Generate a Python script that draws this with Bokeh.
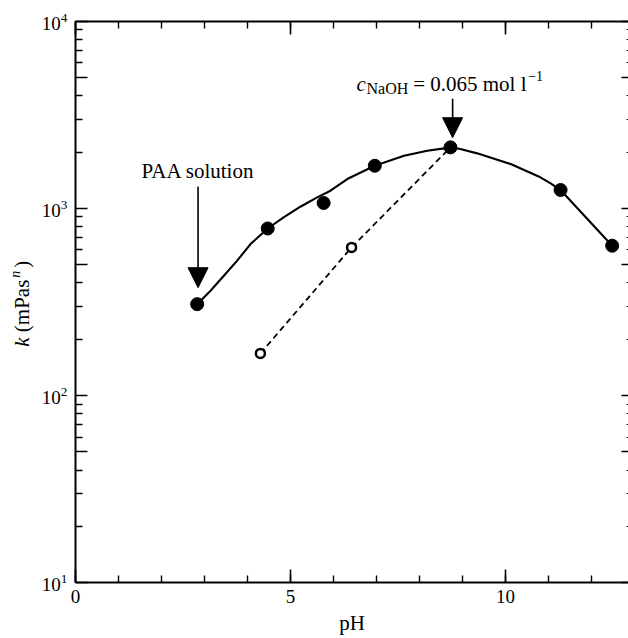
import numpy as np
from bokeh.plotting import figure
from bokeh.models import (Range1d, LinearAxis, LogAxis, FixedTicker, Label,
                          Arrow, NormalHead, CustomJSTickFormatter)
from bokeh.embed import file_html
from bokeh.resources import INLINE

# ---- data ----
ph_filled = [2.83, 4.47, 5.77, 6.96, 8.72, 11.28, 12.48]
k_filled = [308, 781, 1069, 1690, 2119, 1254, 632]

ph_open = [4.30, 6.42]
k_open = [168, 619]

ph_fit = [2.83, 3.14, 3.45, 3.76, 4.07, 4.47, 4.84, 5.23, 5.62, 5.93, 6.32,
          6.96, 7.64, 8.18, 8.57, 8.72, 8.95, 9.34, 10.12, 10.81, 11.05,
          11.28, 12.48]
k_fit = [308, 363, 437, 526, 645, 781, 896, 1021, 1145, 1243, 1435,
         1690, 1912, 2032, 2092, 2119, 2075, 1968, 1726, 1466, 1360,
         1254, 632]

ph_dash = [4.30, 6.42, 8.72]
k_dash = [168, 619, 2119]

x_major = [0, 5, 10]
x_minor = list(range(0, 13))
y_major = [10, 100, 1000, 10000]
y_half = [50, 500, 5000]
y_minor = [m * d for d in (10, 100, 1000) for m in (2, 3, 4, 6, 7, 8, 9)]
y_all = sorted(y_major + y_half)

# axis extents
X_LO, X_HI = 0, 12.86
Y_LO, Y_HI = 10, 10000
# visible window (includes the room for the tick labels and titles)
X_MIN = -1.744
Y_MIN, Y_MAX = 10 ** 0.7025, 10 ** 4.1106
FONT = "Liberation Serif"

p = figure(width=628, height=638,
           x_range=Range1d(X_MIN, X_HI), y_range=Range1d(Y_MIN, Y_MAX),
           y_axis_type="log", x_axis_location=None, y_axis_location=None,
           output_backend="svg", toolbar_location=None,
           min_border_left=0, min_border_right=0, min_border_top=0,
           min_border_bottom=0)
p.outline_line_color = None
p.grid.visible = False
p.background_fill_color = "white"
p.border_fill_color = "white"


def style_hidden(ax):
    ax.formatter = CustomJSTickFormatter(code="return ''")
    ax.major_label_text_font_size = "1px"
    ax.major_label_standoff = 0
    ax.major_tick_out = 0
    ax.minor_tick_out = 0


# bottom axis
bx = LinearAxis(ticker=FixedTicker(ticks=x_major, minor_ticks=x_minor),
                bounds=(X_LO, X_HI), fixed_location=Y_LO)
bx.major_tick_in = 13
bx.major_tick_out = 0
bx.minor_tick_in = 7
bx.minor_tick_out = 0
bx.axis_line_width = 2
bx.major_tick_line_width = 1.6
bx.minor_tick_line_width = 1.4
bx.major_label_text_font = FONT
bx.major_label_text_font_size = "19px"
bx.major_label_text_color = "black"
bx.major_label_standoff = 7
bx.axis_label = "pH"
bx.axis_label_text_font = FONT
bx.axis_label_text_font_style = "normal"
bx.axis_label_text_font_size = "21px"
bx.axis_label_text_color = "black"
bx.axis_label_standoff = 5
p.add_layout(bx, "below")

# top axis
tx = LinearAxis(ticker=FixedTicker(ticks=x_major, minor_ticks=x_minor),
                bounds=(X_LO, X_HI), fixed_location=Y_HI)
style_hidden(tx)
tx.major_tick_in = 13
tx.minor_tick_in = 7
tx.axis_line_width = 2
tx.major_tick_line_width = 1.6
tx.minor_tick_line_width = 1.4
p.add_layout(tx, "above")

# inner left axis: longer ticks at 5 x 10^n
lh = LogAxis(ticker=FixedTicker(ticks=y_half, minor_ticks=[]),
             bounds=(Y_LO, Y_HI), fixed_location=X_LO)
style_hidden(lh)
lh.major_tick_in = 12
lh.minor_tick_in = 0
lh.axis_line_color = None
lh.major_tick_line_width = 1.6
p.add_layout(lh, "left")

# labelled left axis
ly = LogAxis(ticker=FixedTicker(ticks=y_major, minor_ticks=y_minor),
             bounds=(Y_LO, Y_HI), fixed_location=X_LO)
ly.major_tick_in = 12
ly.major_tick_out = 0
ly.minor_tick_in = 7
ly.minor_tick_out = 0
ly.axis_line_width = 2
ly.major_tick_line_width = 1.6
ly.minor_tick_line_width = 1.4
ly.major_label_text_font = FONT
ly.major_label_text_font_size = "19px"
ly.major_label_text_color = "black"
ly.major_label_standoff = 8
p.add_layout(ly, "left")

# right axis (ticks only)
ry = LogAxis(ticker=FixedTicker(ticks=y_all, minor_ticks=y_minor),
             bounds=(Y_LO, Y_HI), fixed_location=X_HI)
style_hidden(ry)
ry.major_tick_in = 7
ry.minor_tick_in = 2
ry.axis_line_color = None
ry.major_tick_line_width = 1.6
ry.minor_tick_line_width = 1.2
p.add_layout(ry, "right")

# curves and points
p.line(ph_fit, k_fit, line_color="black", line_width=2.1, line_join="round")
p.line(ph_dash, k_dash, line_color="black", line_width=1.8, line_dash="6 4")
p.scatter(ph_filled, k_filled, size=13, fill_color="black", line_color="black")
p.scatter(ph_open, k_open, size=9, fill_color="white", line_color="black",
          line_width=2.5)

# arrows
for xa, y0, y1 in ((2.85, 1306, 377), (8.77, 3855, 2386)):
    p.add_layout(Arrow(x_start=xa, y_start=y0, x_end=xa, y_end=y1,
                       line_color="black", line_width=1.6,
                       end=NormalHead(size=20, fill_color="black",
                                      line_color="black", line_width=1)))


def lab(**kw):
    kw.setdefault("text_font", FONT)
    kw.setdefault("text_color", "black")
    kw.setdefault("text_align", "left")
    kw.setdefault("text_baseline", "alphabetic")
    p.add_layout(Label(**kw))


# annotations
lab(x=2.85, y=1578, text="PAA solution", text_font_size="21px",
    text_align="center")
lab(x=6.535, y=4624, text="c", text_font_style="italic", text_font_size="21px")
lab(x=6.767, y=4348, text="NaOH", text_font_size="16px")
lab(x=7.853, y=4624, text="= 0.065 mol l", text_font_size="21px")
lab(x=10.528, y=5126, text="\u22121", text_font_size="14px")

# y-axis label built from pieces (rotated)
ang = np.pi / 2
lab(x=-1.233, y=182.5, text="k", angle=ang, text_font_style="italic",
    text_font_size="21px", text_baseline="middle")
lab(x=-1.233, y=218.2, text="(mPas", angle=ang, text_font_size="21px",
    text_baseline="middle")
lab(x=-1.395, y=426.5, text="n", angle=ang, text_font_style="italic",
    text_font_size="14px", text_baseline="middle")
lab(x=-1.233, y=482.3, text=")", angle=ang, text_font_size="21px",
    text_baseline="middle")

open("out.html", "w").write(file_html(p, INLINE))
